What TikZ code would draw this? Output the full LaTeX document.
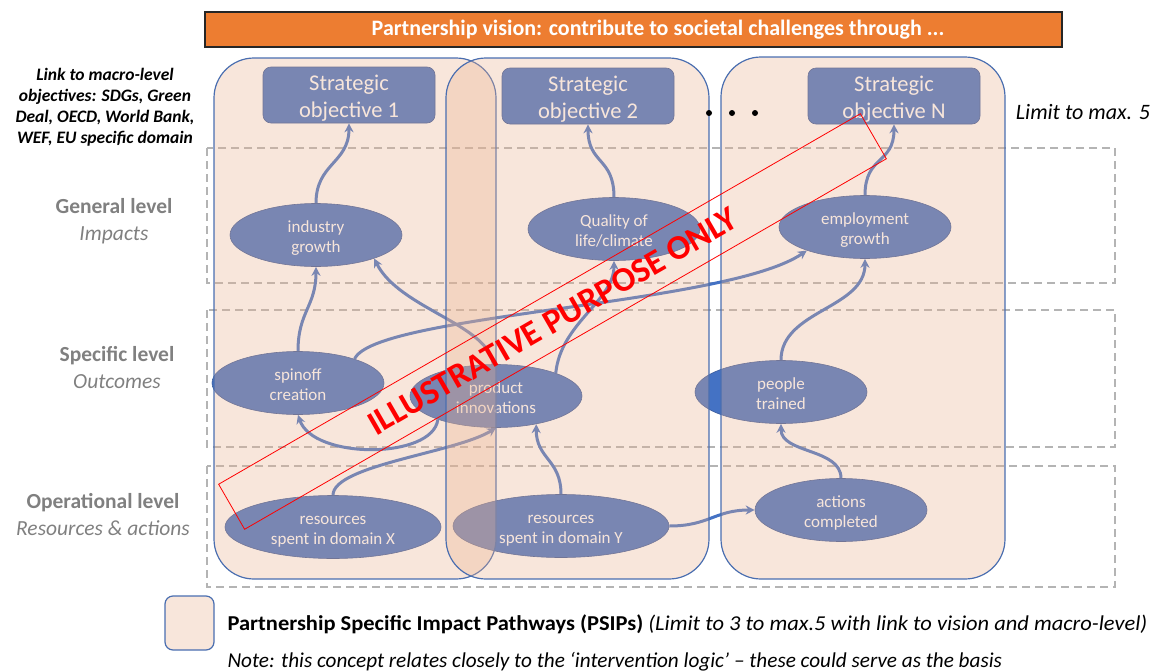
\documentclass[tikz,border=0pt]{standalone}
\usepackage{fontspec}
\setmainfont{Carlito}
\newfontfamily\legendfont{Carlito}[FakeStretch=1.06]
\usepackage{tikz}
\usetikzlibrary{calc}
\usetikzlibrary{arrows.meta}
\usetikzlibrary{positioning}
\usetikzlibrary{shapes.geometric}
\definecolor{vision-orange}{HTML}{ED7D31}
\definecolor{node-blue}{HTML}{4472C4}
\definecolor{node-edge}{HTML}{3A5A9A}
\definecolor{path-peach}{RGB}{233,177,143}
\definecolor{path-edge}{HTML}{4A6EB0}
\definecolor{level-gray}{HTML}{808080}
\definecolor{dash-gray}{HTML}{B4B4B4}
\definecolor{legend-peach}{RGB}{248,230,219}

\begin{document}
\begin{tikzpicture}
  [
    x=1pt, y=-1pt,
    objective/.style = {draw=node-edge, line width=0.6pt, fill=node-blue, rounded corners=8pt,
                        minimum width=172pt, minimum height=55pt, align=center, text=white,
                        text height=50pt, text depth=6pt, inner ysep=0pt,
                        font=\fontsize{22.5}{27}\selectfont},
    effect/.style = {ellipse, draw=node-edge, line width=0.6pt, fill=node-blue, inner sep=0pt,
                     minimum width=172pt, minimum height=63pt, align=center, text=white,
                     text height=38pt, text depth=4pt,
                     font=\fontsize{17}{20}\selectfont},
    flow/.style = {-{Stealth[length=9pt, width=9pt]}, node-blue, line width=3pt},
    levelframe/.style = {draw=dash-gray, dash pattern=on 8pt off 5pt, line width=1.5pt},
    pathway/.style = {draw=path-edge, line width=1.2pt, fill=path-peach, fill opacity=0.32,
                      rounded corners=40pt},
    levelname/.style = {text=level-gray, align=center, font=\fontsize{21.5}{27}\selectfont}
  ]
\useasboundingbox (0,0) rectangle (1157,672);

% Vision bar
\node[draw=black!85, line width=1.2pt, fill=vision-orange, minimum width=857pt, minimum height=35pt]
     (vision) at (633.5,29.5) {};
\node[text=white, font=\fontsize{22}{24}\selectfont\bfseries] (visiontext) at (658,29.5)
     {Partnership vision: contribute to societal challenges through ...};

% Macro link and levels
\node[align=center, font=\fontsize{17.5}{21}\selectfont\bfseries\itshape] (macro) at (105,107)
     {Link to macro-level\\objectives: SDGs, Green\\Deal, OECD, World Bank,\\WEF, EU specific domain};
\node[levelname] (general)     at (114,221) {\textbf{General level}\\\textit{Impacts}};
\node[levelname] (specific)    at (117,368) {\textbf{Specific level}\\\textit{Outcomes}};
\node[levelname] (operational) at (103,515) {\textbf{Operational level}\\\textit{Resources \& actions}};

% Dashed level frames
\draw[levelframe] (207,148) rectangle (1115,283);
\draw[levelframe] (207,310) rectangle (1115,447);
\draw[levelframe] (207,466) rectangle (1115,587);

% ---------------------------------------------------
% Strategic objectives
\node[objective] (so1) at (349,95) {Strategic\\objective 1};
\node[objective] (so2) at (588,96) {Strategic\\objective 2};
\node[objective] (soN) at (894,96) {Strategic\\objective N};

% Impacts
\node[effect] (indgr) at (316,235) {industry\\growth};
\node[effect] (qual)  at (614,229) {Quality of\\life/climate};
\node[effect] (empgr) at (865,227) {employment\\growth};
% Outcomes
\node[effect] (spin)    at (298,383) {spinoff\\creation};
\node[effect] (prodinn) at (496,396) {product\\innovations};
\node[effect] (people)  at (781,392) {people\\trained};
% Resources & actions
\node[effect, minimum width=216pt] (resX) at (333,527) {resources\\spent in domain X};
\node[effect, minimum width=216pt] (resY) at (561,526) {resources\\spent in domain Y};
\node[effect] (actdone) at (841,510) {actions\\completed};

% Impacts -> objectives
\draw[flow] (indgr.north) .. controls +(0,-40) and +(0,40) .. (so1.south);
\draw[flow] (qual.north)  .. controls +(0,-40) and +(0,40) .. (so2.south);
\draw[flow] (empgr.north) .. controls +(0,-40) and +(0,40) .. (soN.south);
% Outcomes -> impacts
\draw[flow] (spin.north) .. controls +(0,-40) and +(0,40) .. (indgr.south);
\draw[flow] (prodinn.95) .. controls +(-5,-40) and +(25,50) .. (indgr.-22);
\draw[flow] (spin.23) .. controls +(20,-45) and +(-80,55) .. (empgr.-158);
\draw[flow] (prodinn.21) .. controls +(5,-50) and +(0,40) .. (qual.south);
\draw[flow] (people.north) .. controls +(0,-50) and +(0,50) .. (empgr.south);
% Resources & actions -> outcomes
\draw[flow] (prodinn.-158) .. controls +(-5,40) and +(15,45) .. (spin.south);
\draw[flow] (resX.north) .. controls +(0,-30) and +(-40,25) .. (prodinn.south);
\draw[flow] (resY.north) .. controls +(0,-35) and +(0,35) .. (prodinn.-35);
\draw[flow] (resY.east) .. controls +(40,0) and +(-40,0) .. (actdone.west);
\draw[flow] (actdone.north) .. controls +(0,-30) and +(0,30) .. (people.south);

% Impact pathways
\draw[pathway] (214,58) rectangle (496,579);
\draw[pathway] (446,58) rectangle (709,579);
\draw[pathway] (721,57) rectangle (1005,579);

% More objectives
\fill (709,113) circle (3pt) (732,113) circle (3pt) (755,113) circle (3pt);
\node[font=\fontsize{22}{24}\selectfont\itshape] (limit) at (1083,112) {Limit to max. 5};

% Stamp
\node[draw=red, line width=0.8pt, rotate=30, minimum width=741pt, minimum height=52pt,
      text=red, font=\fontsize{34.5}{34.5}\selectfont\bfseries] (stamp) at (552.5,321.5)
     {ILLUSTRATIVE PURPOSE ONLY};

% ---------------------------------------------------
% Legend
\node[draw=path-edge, line width=1.2pt, fill=legend-peach, rounded corners=8pt,
      minimum width=49pt, minimum height=54pt] (legbox) at (189.5,623) {};
\node[anchor=base west, font=\legendfont\fontsize{21.2}{24}\selectfont] (legtext) at (224,630)
     {\textbf{Partnership Specific Impact Pathways (PSIPs)} \textit{(Limit to 3 to max.5 with link to vision and macro-level)}};
\node[anchor=base west, font=\fontsize{21.2}{24}\selectfont\itshape] (note) at (224,667)
     {Note: this concept relates closely to the ‘intervention logic’ – these could serve as the basis};
\end{tikzpicture}
\end{document}
